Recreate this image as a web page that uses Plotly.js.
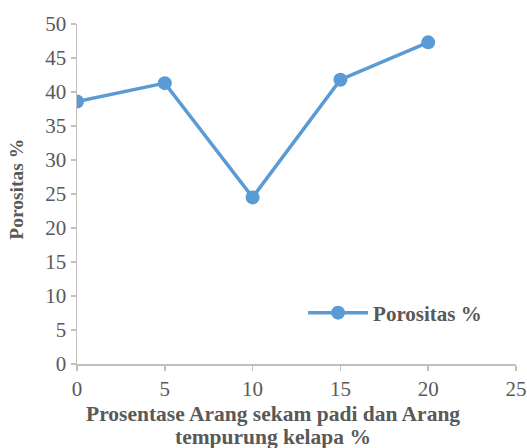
<!DOCTYPE html>
<html>
<head>
<meta charset="utf-8">
<script src="https://cdn.plot.ly/plotly-3.0.1.min.js"></script>
<style>
  html, body { margin: 0; padding: 0; background: #ffffff; }
  #chart { width: 527px; height: 448px; }
</style>
</head>
<body>
<div id="chart"></div>
<script>
// Porosity (%) for each charcoal blend percentage
const blendPercent = [0, 5, 10, 15, 20];
const porosity = [38.6, 41.3, 24.5, 41.8, 47.3];
const seriesName = 'Porositas %';
const xTitleLines = ['Prosentase Arang sekam padi dan Arang', 'tempurung kelapa %'];
const yTitle = 'Porositas %';
const xTickVals = [0, 5, 10, 15, 20, 25];
const yTickVals = [0, 5, 10, 15, 20, 25, 30, 35, 40, 45, 50];

const blue = '#5b9bd5';
const axisGrey = '#bfbfbf';
const textGrey = '#595959';
const serif = '"Liberation Serif", "Times New Roman", serif';

const trace = {
  x: blendPercent,
  y: porosity,
  name: seriesName,
  type: 'scatter',
  mode: 'lines+markers',
  line: { color: blue, width: 3.5 },
  marker: { color: blue, size: 14 },
  showlegend: true
};

const axisCommon = {
  showgrid: false,
  zeroline: false,
  showline: true,
  linecolor: axisGrey,
  linewidth: 1.5,
  ticks: 'outside',
  ticklen: 5,
  tickcolor: axisGrey,
  tickwidth: 1.5,
  tickfont: { family: serif, size: 21, color: textGrey },
  automargin: false,
  fixedrange: true
};

const titleFont = { family: serif, size: 21.5, color: textGrey, weight: 'bold' };

// Two-line x title, each line its own annotation for tighter leading
const xTitleTops = [-0.106, -0.174];
const xTitleAnnotations = xTitleLines.map((line, i) => ({
  text: line,
  xref: 'paper', yref: 'paper',
  x: 0.4476, y: xTitleTops[i],
  xanchor: 'center', yanchor: 'top',
  showarrow: false,
  font: titleFont
}));

const layout = {
  width: 527,
  height: 448,
  paper_bgcolor: '#ffffff',
  plot_bgcolor: '#ffffff',
  margin: { l: 77, r: 11, t: 24, b: 84 },
  font: { family: serif, color: textGrey },
  showlegend: true,
  legend: {
    x: 0.515, y: 0.15, xanchor: 'left', yanchor: 'middle',
    bgcolor: 'rgba(0,0,0,0)',
    itemwidth: 60,
    font: { family: serif, size: 21, color: textGrey, weight: 'bold' }
  },
  xaxis: Object.assign({}, axisCommon, {
    range: [0, 25],
    tickvals: xTickVals,
    ticktext: xTickVals.map(String)
  }),
  yaxis: Object.assign({}, axisCommon, {
    range: [0, 50],
    tickvals: yTickVals,
    ticktext: yTickVals.map(String)
  }),
  annotations: xTitleAnnotations.concat([
    {
      text: yTitle,
      xref: 'paper', yref: 'paper',
      x: -0.137, y: 0.515,
      xanchor: 'center', yanchor: 'middle',
      textangle: -90,
      showarrow: false,
      font: { family: serif, size: 19.5, color: textGrey, weight: 'bold' }
    }
  ])
};

Plotly.newPlot('chart', [trace], layout, { displayModeBar: false, staticPlot: true });
</script>
</body>
</html>
